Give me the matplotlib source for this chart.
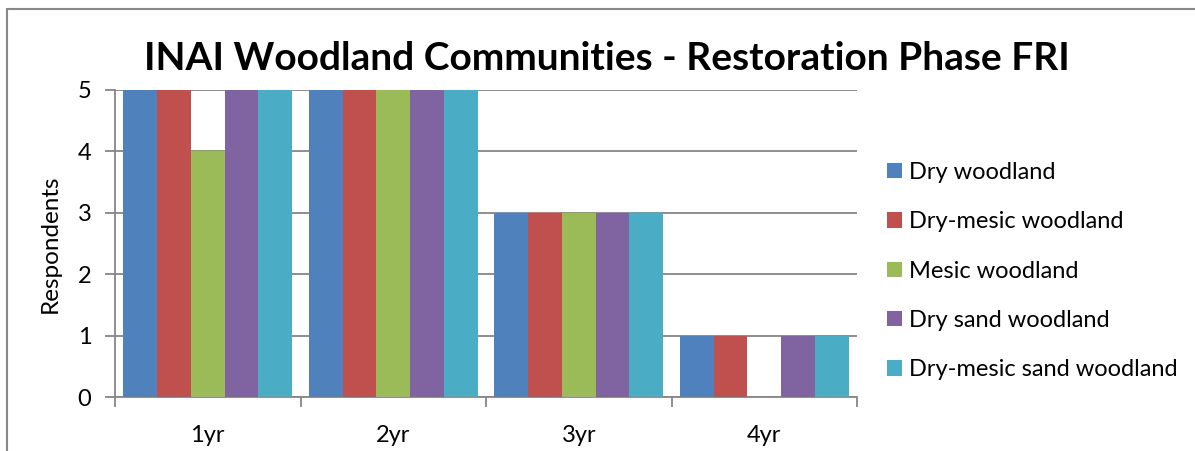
import matplotlib
matplotlib.use("Agg")
import matplotlib.pyplot as plt
import numpy as np
from matplotlib.patches import Rectangle

plt.rcParams['font.family'] = ['Lato', 'DejaVu Sans']

# data
categories = ['1yr', '2yr', '3yr', '4yr']
series_names = ['Dry woodland', 'Dry-mesic woodland', 'Mesic woodland',
                'Dry sand woodland', 'Dry-mesic sand woodland']
dry_woodland = [5, 5, 3, 1]
dry_mesic_woodland = [5, 5, 3, 1]
mesic_woodland = [4, 5, 3, 0]
dry_sand_woodland = [5, 5, 3, 1]
dry_mesic_sand_woodland = [5, 5, 3, 1]
colors = ['#4F81BD', '#C0504D', '#9BBB59', '#8064A2', '#4BACC6']

W, H = 1195, 451
fig = plt.figure(figsize=(W / 100, H / 100), dpi=100)
# outer chart frame
fig.patches.append(Rectangle((7 / W, -0.1), 1.2, 1 - 9 / H + 0.1, transform=fig.transFigure,
                             fill=False, edgecolor='#898989', lw=1.5))

ax = fig.add_axes([115 / W, 1 - 397 / H, (857 - 115) / W, (397 - 90) / H])

all_series = [dry_woodland, dry_mesic_woodland, mesic_woodland,
              dry_sand_woodland, dry_mesic_sand_woodland]
x = np.arange(len(categories))
group = 0.911
bw = group / len(all_series)
for i, (vals, name) in enumerate(zip(all_series, series_names)):
    ax.bar(x - group / 2 + bw * (i + 0.5), vals, width=bw, color=colors[i],
           label=name, zorder=3, linewidth=0)

ax.set_xlim(-0.5, len(categories) - 0.5)
ax.set_ylim(0, 5)
ax.set_yticks(range(0, 6))
ax.set_xticks(x)
ax.set_xticklabels(categories)
ax.set_xticks(np.arange(-0.5, len(categories)), minor=True)
ax.tick_params(axis='x', which='major', length=0, pad=20, labelsize=17)
ax.tick_params(axis='x', which='minor', length=7, color='#868686', width=1.3)
ax.tick_params(axis='y', length=7, color='#868686', width=1.3, labelsize=17, pad=10)
ax.grid(axis='y', color='#868686', lw=1.3, zorder=0)
for s in ['top', 'right']:
    ax.spines[s].set_visible(False)
for s in ['left', 'bottom']:
    ax.spines[s].set_color('#868686')
    ax.spines[s].set_linewidth(1.3)

ax.set_ylabel('Respondents', fontsize=17.5, labelpad=12)
fig.text(607 / W, 1 - 58 / H, 'INAI Woodland Communities - Restoration Phase FRI',
         ha='center', va='center', fontsize=28, fontweight='bold')

ax.legend(loc='center left', bbox_to_anchor=(866 / W, 1 - 271 / H),
          bbox_transform=fig.transFigure, frameon=False, fontsize=17,
          handlelength=0.62, handleheight=0.62, handletextpad=0.3, labelspacing=1.2)

fig.savefig('out.png', dpi=100)
